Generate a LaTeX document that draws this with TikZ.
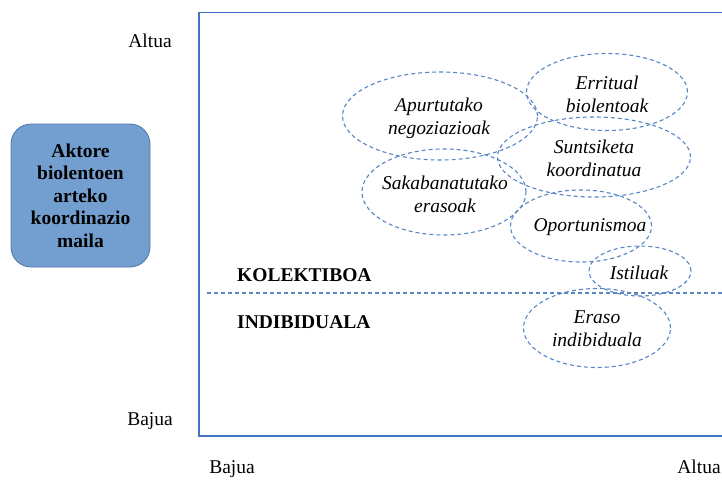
\documentclass[tikz,border=0pt]{standalone}
\usepackage{fontspec}
\setmainfont{Liberation Serif}
\usetikzlibrary{shapes.geometric}
\definecolor{axblue}{RGB}{68,114,196}
\definecolor{dashblue}{RGB}{88,134,196}
\definecolor{boxfill}{RGB}{114,159,207}
\definecolor{boxline}{RGB}{78,118,168}
\begin{document}
\begin{tikzpicture}[x=1pt,y=-1pt,
  ax/.style={draw=axblue, line width=1.3pt},
  oval/.style={draw=dashblue, dash pattern=on 4pt off 3pt, line width=1.1pt},
  ovalnode/.style={oval, ellipse, inner sep=0pt},
  lbl/.style={font=\fontsize{19.5}{23}\selectfont\itshape, align=center, inner sep=0pt},
  axl/.style={font=\fontsize{19.5}{23}\selectfont, inner sep=0pt},
  cat/.style={font=\fontsize{19.5}{23}\selectfont\bfseries, inner sep=0pt, anchor=west},
  box/.style={draw=boxline, fill=boxfill, line width=0.8pt, rounded corners=20pt,
    minimum width=139pt, minimum height=143pt, align=center,
    font=\fontsize{19.5}{22.5}\selectfont\bfseries, inner sep=0pt}
]
\useasboundingbox (0,0) rectangle (722,479);

% axes
\coordinate (tl) at (199,12.5);
\coordinate (bl) at (199,436);
\coordinate (tr) at (722,12.5);
\coordinate (br) at (722,436);
\draw[ax] (tr) -- (tl) -- (bl) -- (br);

% axis labels
\node[axl] (ytop) at (150,41) {Altua};
\node[axl] (ybot) at (150,421) {Bajua};
\node[axl] (xleft) at (232,469) {Bajua};
\node[axl] (xright) at (699,467) {Altua};

% left box
\node[box] (box) at (80.5,195.5) {Aktore\\biolentoen\\arteko\\koordinazio\\maila};

% divider
\coordinate (d1) at (207,293);
\coordinate (d2) at (722,293);
\draw[oval] (d1) -- (d2);

% categories
\node[cat] (kol) at (237,275) {KOLEKTIBOA};
\node[cat] (ind) at (237,322) {INDIBIDUALA};

% ellipses
\node[ovalnode, minimum width=195pt, minimum height=88pt] (e1) at (440,116) {};
\node[ovalnode, minimum width=161pt, minimum height=77pt] (e2) at (607,92) {};
\node[ovalnode, minimum width=193pt, minimum height=80pt] (e3) at (594,157) {};
\node[ovalnode, minimum width=164pt, minimum height=86pt] (e4) at (444,192) {};
\node[ovalnode, minimum width=141pt, minimum height=72pt] (e5) at (581,226) {};
\node[ovalnode, minimum width=102pt, minimum height=50pt] (e6) at (640,271) {};
\node[ovalnode, minimum width=147pt, minimum height=79pt] (e7) at (597,328) {};

% ellipse texts
\node[lbl] (t1) at (439,118) {Apurtutako\\negoziazioak};
\node[lbl] (t2) at (607,94) {Erritual\\biolentoak};
\node[lbl] (t3) at (594,158) {Suntsiketa\\koordinatua};
\node[lbl] (t4) at (445,194) {Sakabanatutako\\erasoak};
\node[lbl] (t5) at (590,227) {Oportunismoa};
\node[lbl] (t6) at (639,273) {Istiluak};
\node[lbl] (t7) at (597,329) {Eraso\\indibiduala};
\end{tikzpicture}
\end{document}
